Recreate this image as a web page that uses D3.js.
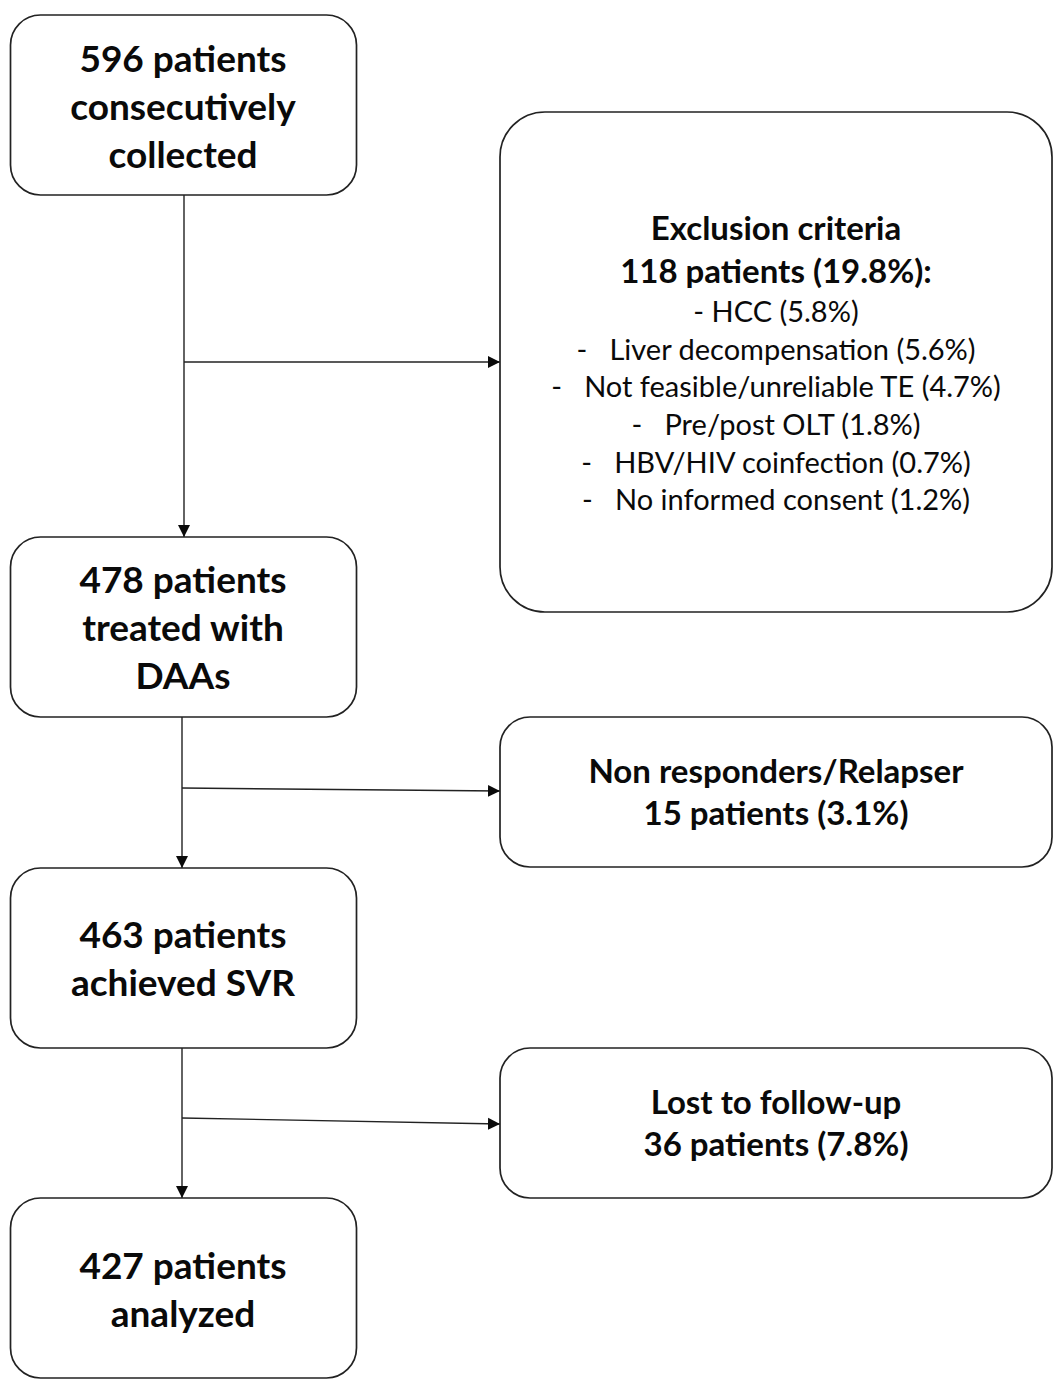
<!DOCTYPE html>
<html>
<head>
<meta charset="utf-8">
<script src="https://cdn.jsdelivr.net/npm/d3@7"></script>
<style>
  html, body { margin: 0; padding: 0; background: #fff; }
  svg { display: block; }
  text { font-family: Lato, "Open Sans", sans-serif; fill: #0a0a0a; white-space: pre; }
</style>
</head>
<body>
<div id="chart"></div>
<script>
// flow steps (left column)
const stepLabels = [
  ["596 patients", "consecutively", "collected"],
  ["478 patients", "treated with", "DAAs"],
  ["463 patients", "achieved SVR"],
  ["427 patients", "analyzed"]
];
const stepCounts = [596, 478, 463, 427];

// drop-outs (right column)
const dropTitles = ["Exclusion criteria", "Non responders/Relapser", "Lost to follow-up"];
const dropCounts = [118, 15, 36];
const dropPct = ["19.8%", "3.1%", "7.8%"];

// exclusion breakdown
const reasons = ["HCC", "Liver decompensation", "Not feasible/unreliable TE", "Pre/post OLT", "HBV/HIV coinfection", "No informed consent"];
const reasonPct = ["5.8%", "5.6%", "4.7%", "1.8%", "0.7%", "1.2%"];

const width = 1057, height = 1383;

// layout (pixels)
const left = {x0: 10, x1: 356, h: 180, r: 30};
const stepTop = [15, 537, 868, 1198];
const stepFirstLine = [59, 580, 935, 1266];
const right = {x0: 500, x1: 1052};
const dropBox = [
  {y0: 112, y1: 612, r: 45, first: 228},
  {y0: 717, y1: 867, r: 30, first: 771},
  {y0: 1048, y1: 1198, r: 30, first: 1102}
];
const trunkX = [184, 182, 182];
const branchY = [[362, 362], [788, 791], [1118, 1124]];

const svg = d3.select("#chart").append("svg")
    .attr("width", width)
    .attr("height", height);

svg.append("defs").append("marker")
    .attr("id", "arrow")
    .attr("viewBox", "0 0 10 10")
    .attr("refX", 10).attr("refY", 5)
    .attr("markerWidth", 12).attr("markerHeight", 13)
    .attr("markerUnits", "userSpaceOnUse")
    .attr("orient", "auto")
  .append("path")
    .attr("d", "M0,0L10,5L0,10Z")
    .attr("fill", "#0a0a0a");

const cx = (left.x0 + left.x1) / 2;
const rcx = (right.x0 + right.x1) / 2;

// connectors
const links = svg.append("g").attr("stroke", "#222").attr("stroke-width", 1.4).attr("fill", "none");
stepCounts.slice(1).forEach((d, i) => {
  links.append("line")
      .attr("x1", trunkX[i]).attr("y1", stepTop[i] + left.h)
      .attr("x2", trunkX[i]).attr("y2", stepTop[i + 1])
      .attr("marker-end", "url(#arrow)");
  links.append("line")
      .attr("x1", trunkX[i]).attr("y1", branchY[i][0])
      .attr("x2", right.x0).attr("y2", branchY[i][1])
      .attr("marker-end", "url(#arrow)");
});

// left boxes
const steps = svg.selectAll(".step")
    .data(stepLabels)
    .enter().append("g")
    .attr("class", "step");

steps.append("rect")
    .attr("x", left.x0 + 0.5)
    .attr("y", (d, i) => stepTop[i])
    .attr("width", left.x1 - left.x0)
    .attr("height", left.h)
    .attr("rx", left.r)
    .attr("fill", "#fff")
    .attr("stroke", "#222")
    .attr("stroke-width", 1.7);

steps.each(function(lines, i) {
  d3.select(this).selectAll("text")
      .data(lines)
      .enter().append("text")
      .attr("x", cx)
      .attr("y", (d, j) => stepFirstLine[i] + j * 48)
      .attr("dy", "0.35em")
      .attr("text-anchor", "middle")
      .attr("font-size", 37)
      .attr("font-weight", "bold")
      .text(d => d);
});

// right boxes
const drops = svg.selectAll(".drop")
    .data(dropTitles)
    .enter().append("g")
    .attr("class", "drop");

drops.append("rect")
    .attr("x", right.x0)
    .attr("y", (d, i) => dropBox[i].y0)
    .attr("width", right.x1 - right.x0)
    .attr("height", (d, i) => dropBox[i].y1 - dropBox[i].y0)
    .attr("rx", (d, i) => dropBox[i].r)
    .attr("fill", "#fff")
    .attr("stroke", "#222")
    .attr("stroke-width", 1.7);

drops.append("text")
    .attr("x", rcx)
    .attr("y", (d, i) => dropBox[i].first)
    .attr("dy", "0.35em")
    .attr("text-anchor", "middle")
    .attr("font-size", 33)
    .attr("font-weight", "bold")
    .text(d => d);

drops.append("text")
    .attr("x", rcx)
    .attr("y", (d, i) => dropBox[i].first + (i === 0 ? 43 : 42))
    .attr("dy", "0.35em")
    .attr("text-anchor", "middle")
    .attr("font-size", 33)
    .attr("font-weight", "bold")
    .text((d, i) => dropCounts[i] + " patients (" + dropPct[i] + ")" + (i === 0 ? ":" : ""));

// exclusion reasons
svg.append("g").selectAll("text")
    .data(reasons)
    .enter().append("text")
    .attr("x", rcx)
    .attr("y", (d, i) => 312 + i * 37.6)
    .attr("dy", "0.35em")
    .attr("text-anchor", "middle")
    .attr("font-size", 29)
    .text((d, i) => (i === 0 ? "- " : "-   ") + d + " (" + reasonPct[i] + ")");
</script>
</body>
</html>
